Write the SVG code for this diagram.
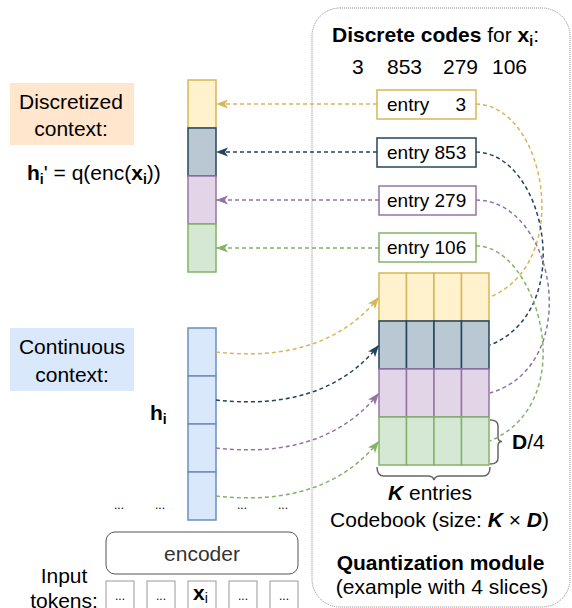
<svg xmlns="http://www.w3.org/2000/svg" width="572" height="608" viewBox="0 0 572 608">
<style>
text{font-family:"Liberation Sans",Arial,sans-serif;fill:#000}
.t21{font-size:21px}
.t19{font-size:19px}
.b{font-weight:bold}
.bi{font-weight:bold;font-style:italic}
.dots{font-size:12px}
.cy{fill:#FFF2CC;stroke:#D6B656;stroke-width:1.5}
.cd{fill:#BAC8D3;stroke:#23445D;stroke-width:1.5}
.cp{fill:#E1D5E7;stroke:#9673A6;stroke-width:1.5}
.cg{fill:#D5E8D4;stroke:#82B366;stroke-width:1.5}
.cb{fill:#DAE8FC;stroke:#6C8EBF;stroke-width:1.5}
.ey{fill:#fff;stroke:#D6B656;stroke-width:1.5}
.ed{fill:#fff;stroke:#23445D;stroke-width:1.5}
.ep{fill:#fff;stroke:#9673A6;stroke-width:1.5}
.eg{fill:#fff;stroke:#82B366;stroke-width:1.5}
.ln{fill:none;stroke-width:1.5;stroke-dasharray:4 3}
.sy{stroke:#D6B656}.sd{stroke:#23445D}.sp{stroke:#9673A6}.sg{stroke:#82B366}
.brace{fill:none;stroke:#666;stroke-width:1.5}
.tok{fill:#fff;stroke:#999;stroke-width:1}
</style>
<defs>
<marker id="aY" markerWidth="12" markerHeight="10" refX="12" refY="5" orient="auto" markerUnits="userSpaceOnUse"><path d="M0,0.5 L12,5 L0,9.5 L3,5 Z" fill="#D6B656"/></marker>
<marker id="aD" markerWidth="12" markerHeight="10" refX="12" refY="5" orient="auto" markerUnits="userSpaceOnUse"><path d="M0,0.5 L12,5 L0,9.5 L3,5 Z" fill="#23445D"/></marker>
<marker id="aP" markerWidth="12" markerHeight="10" refX="12" refY="5" orient="auto" markerUnits="userSpaceOnUse"><path d="M0,0.5 L12,5 L0,9.5 L3,5 Z" fill="#9673A6"/></marker>
<marker id="aG" markerWidth="12" markerHeight="10" refX="12" refY="5" orient="auto" markerUnits="userSpaceOnUse"><path d="M0,0.5 L12,5 L0,9.5 L3,5 Z" fill="#82B366"/></marker>
</defs>

<g id="quantization-module">
<rect x="312" y="8" width="258" height="599" rx="28" fill="none" stroke="#888" stroke-width="1" stroke-dasharray="1 1"/>
<text class="t21" x="435.5" y="42" text-anchor="middle"><tspan class="b">Discrete codes</tspan> for <tspan class="b">x</tspan><tspan class="b" font-size="14" dy="4">i</tspan><tspan dy="-4">:</tspan></text>
<text class="t21" y="74"><tspan x="352">3</tspan><tspan x="387">853</tspan><tspan x="443">279</tspan><tspan x="492">106</tspan></text>
<text class="t21" x="430" y="500" text-anchor="middle"><tspan class="bi">K</tspan> entries</text>
<text class="t21" x="439.5" y="527" text-anchor="middle">Codebook (size: <tspan class="bi">K</tspan> × <tspan class="bi">D</tspan>)</text>
<text class="t21 b" x="440.5" y="570" text-anchor="middle">Quantization module</text>
<text class="t21" x="442" y="594" text-anchor="middle">(example with 4 slices)</text>
</g>

<g id="discretized-label">
<rect x="10" y="83" width="124" height="62" fill="#FFE6CC"/>
<text class="t21" x="71" y="108.5" text-anchor="middle">Discretized</text>
<text class="t21" x="71" y="136" text-anchor="middle">context:</text>
<text class="t21" x="27" y="180"><tspan class="b">h</tspan><tspan class="b" font-size="14" dy="4">i</tspan><tspan dy="-4">' = q(enc(</tspan><tspan class="b">x</tspan><tspan class="b" font-size="14" dy="4">i</tspan><tspan dy="-4">))</tspan></text>
</g>

<g id="continuous-label">
<rect x="10" y="328" width="124" height="63" fill="#DAE8FC"/>
<text class="t21" x="72" y="354" text-anchor="middle">Continuous</text>
<text class="t21" x="72" y="381.5" text-anchor="middle">context:</text>
<text class="t21" x="150" y="420"><tspan class="b">h</tspan><tspan class="b" font-size="14" dy="4">i</tspan></text>
</g>

<g id="discretized-vector">
<rect class="cy" x="188" y="80" width="28" height="48"/>
<rect class="cd" x="188" y="128" width="28" height="48"/>
<rect class="cp" x="188" y="176" width="28" height="48"/>
<rect class="cg" x="188" y="224" width="28" height="48"/>
</g>

<g id="continuous-vector">
<rect class="cb" x="188" y="328" width="28" height="48"/>
<rect class="cb" x="188" y="376" width="28" height="48"/>
<rect class="cb" x="188" y="424" width="28" height="48"/>
<rect class="cb" x="188" y="472" width="28" height="48"/>
</g>

<g id="context-dots">
<text class="dots" x="119" y="509" text-anchor="middle">...</text>
<text class="dots" x="160" y="509" text-anchor="middle">...</text>
<text class="dots" x="242" y="509" text-anchor="middle">...</text>
<text class="dots" x="283" y="509" text-anchor="middle">...</text>
</g>

<g id="encoder">
<rect x="106" y="532" width="192" height="42" rx="9" fill="#fff" stroke="#555" stroke-width="1"/>
<text class="t21" x="202" y="561" text-anchor="middle" style="fill:#333">encoder</text>
</g>

<g id="input-tokens">
<text class="t21" x="64" y="583" text-anchor="middle">Input</text>
<text class="t21" x="64" y="608" text-anchor="middle">tokens:</text>
<rect class="tok" x="106" y="581" width="28" height="40"/>
<rect class="tok" x="147" y="581" width="28" height="40"/>
<rect class="tok" x="188" y="581" width="28" height="40"/>
<rect class="tok" x="229" y="581" width="28" height="40"/>
<rect class="tok" x="270" y="581" width="28" height="40"/>
<text class="dots" x="120" y="600" text-anchor="middle">...</text>
<text class="dots" x="161" y="600" text-anchor="middle">...</text>
<text class="t21" x="193" y="600"><tspan class="b">x</tspan><tspan font-size="14" dy="3">i</tspan></text>
<text class="dots" x="243" y="600" text-anchor="middle">...</text>
<text class="dots" x="284" y="600" text-anchor="middle">...</text>
</g>

<g id="entry-3">
<rect class="ey" x="377" y="90" width="99" height="29"/>
<text class="t19" x="387" y="111">entry<tspan x="466" text-anchor="end">3</tspan></text>
</g>
<g id="entry-853">
<rect class="ed" x="377" y="138" width="99" height="29"/>
<text class="t19" x="387" y="159">entry 853</text>
</g>
<g id="entry-279">
<rect class="ep" x="379" y="186" width="97" height="29"/>
<text class="t19" x="387" y="207">entry 279</text>
</g>
<g id="entry-106">
<rect class="eg" x="379" y="233" width="97" height="29"/>
<text class="t19" x="387" y="254">entry 106</text>
</g>

<g id="codebook">
<rect class="cy" x="379" y="273" width="27.5" height="48"/><rect class="cy" x="406.5" y="273" width="27.5" height="48"/><rect class="cy" x="434" y="273" width="27.5" height="48"/><rect class="cy" x="461.5" y="273" width="27.5" height="48"/>
<rect class="cd" x="379" y="321" width="27.5" height="48"/><rect class="cd" x="406.5" y="321" width="27.5" height="48"/><rect class="cd" x="434" y="321" width="27.5" height="48"/><rect class="cd" x="461.5" y="321" width="27.5" height="48"/>
<rect class="cp" x="379" y="369" width="27.5" height="48"/><rect class="cp" x="406.5" y="369" width="27.5" height="48"/><rect class="cp" x="434" y="369" width="27.5" height="48"/><rect class="cp" x="461.5" y="369" width="27.5" height="48"/>
<rect class="cg" x="379" y="417" width="27.5" height="48"/><rect class="cg" x="406.5" y="417" width="27.5" height="48"/><rect class="cg" x="434" y="417" width="27.5" height="48"/><rect class="cg" x="461.5" y="417" width="27.5" height="48"/>
<path class="brace" d="M490,420 Q498,420 498,426 L498,437 Q498,441.5 502,441.5 Q498,441.5 498,446 L498,458 Q498,464 490,464"/>
<text class="t21" x="512" y="449"><tspan class="b">D</tspan>/4</text>
<path class="brace" d="M377,467 Q377,476 384,476 L428,476 Q433,476 434,480 Q435,476 440,476 L483,476 Q490,476 490,467"/>
</g>

<g id="connectors">
<path class="ln sy" d="M377,104 L216,104" marker-end="url(#aY)"/>
<path class="ln sd" d="M377,152 L216,152" marker-end="url(#aD)"/>
<path class="ln sp" d="M379,200 L216,200" marker-end="url(#aP)"/>
<path class="ln sg" d="M379,248 L216,248" marker-end="url(#aG)"/>
<path class="ln sy" d="M476,104 C545,105 575,262 490,297"/>
<path class="ln sd" d="M476,152 C545,153 578,310 490,345"/>
<path class="ln sp" d="M476,200 C555,200 585,365 490,393"/>
<path class="ln sg" d="M476,246 C535,244 585,400 490,441"/>
<path class="ln sy" d="M216,352 C270,358 335,352 379,297" marker-end="url(#aY)"/>
<path class="ln sd" d="M216,400 C270,406 335,400 379,345" marker-end="url(#aD)"/>
<path class="ln sp" d="M216,448 C270,454 335,448 379,393" marker-end="url(#aP)"/>
<path class="ln sg" d="M216,496 C270,502 335,496 379,441" marker-end="url(#aG)"/>
</g>
</svg>
